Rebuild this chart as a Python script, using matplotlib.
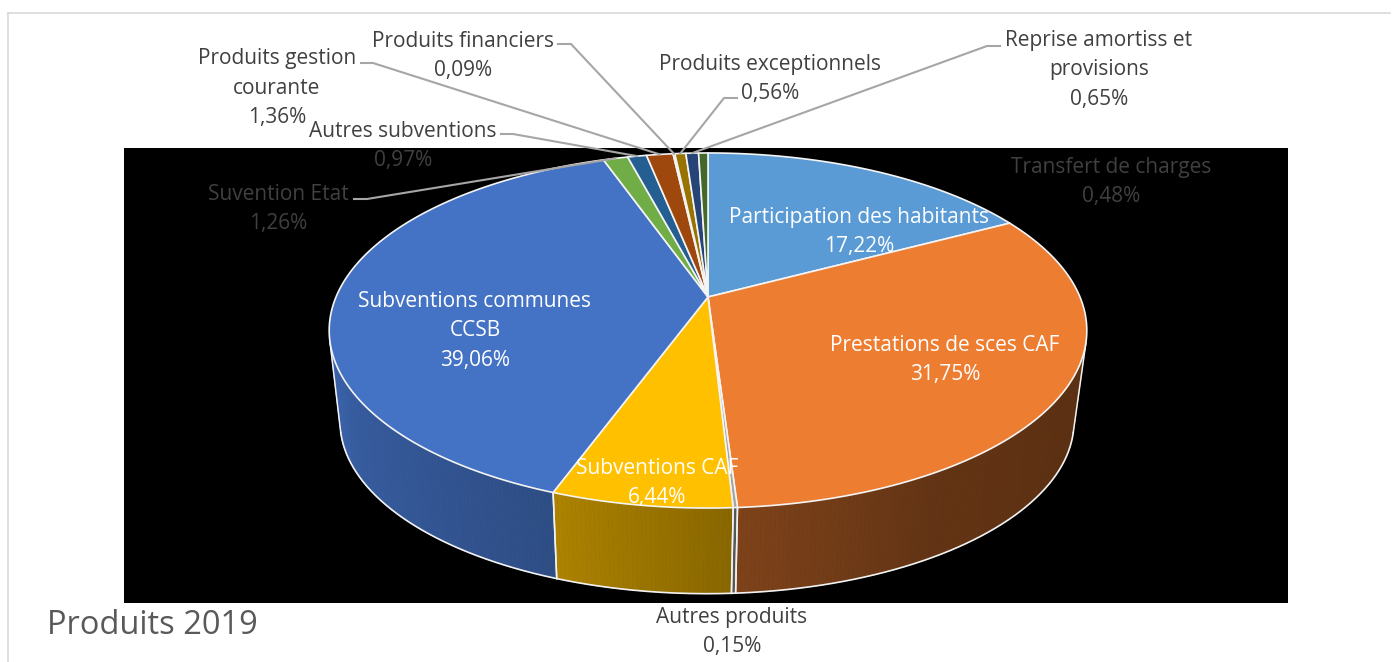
import numpy as np
import matplotlib
matplotlib.use("Agg")
import matplotlib.pyplot as plt
from matplotlib.collections import PolyCollection

# ---- data ----
labels = ["Participation des habitants", "Prestations de sces CAF", "Autres produits",
          "Subventions CAF", "Subventions communes\nCCSB", "Suvention Etat",
          "Autres subventions", "Produits gestion\ncourante", "Produits financiers",
          "Produits exceptionnels", "Reprise amortiss et\nprovisions", "Transfert de charges"]
values = [17.22, 31.75, 0.15, 6.44, 39.06, 1.26, 0.97, 1.36, 0.09, 0.56, 0.65, 0.48]
colors = ["#5B9BD5", "#ED7D31", "#A5A5A5", "#FFC000", "#4472C4", "#70AD47",
          "#255E91", "#9E480E", "#636363", "#997300", "#264478", "#43682B"]
label_pos = [(859, 232), (945, 360), (732, 632), (657, 483), (475, 331), (278, 209),
             (403, 146), (277, 88), (463, 56), (770, 79), (1099, 70), (1111, 182)]
label_col = ["white", "white", "#404040", "white", "white", "#404040",
             "#404040", "#404040", "#404040", "#404040", "#404040", "#404040"]
# leader lines: slice index -> (label end, elbow)
leaders = {5: ((354, 199), (367, 199)), 6: ((501, 134), (513, 134)),
           7: ((361, 63), (373, 63)), 8: ((558, 44), (571, 44)),
           9: ((737, 98), (724, 98)), 10: ((1000, 46), (987, 46))}

FONT = "Open Sans"
FS = 15
LS = 1.52

fig = plt.figure(figsize=(13.94, 6.62), dpi=100, facecolor="white")
ax = fig.add_axes([0, 0, 1, 1])
ax.set_xlim(0, 1394)
ax.set_ylim(662, 0)
ax.axis("off")

# frame and black plot area
ax.plot([8, 1390], [13, 13], color="#D9D9D9", lw=1.2, zorder=1)
ax.plot([8, 8], [13, 662], color="#D9D9D9", lw=1.2, zorder=1)
ax.fill([124, 1288, 1288, 124], [148, 148, 603, 603], color="black", lw=0, zorder=1)


def top_rim(t):
    u, v = np.sin(t), -np.cos(t)
    d = 1 - 0.1887 * v
    return 708 + 372 * u / d, 297 + 171.2 * v / d


def bot_rim(t):
    u, v = np.sin(t), -np.cos(t)
    d = 1 - 0.19 * v
    return 707 + 360.3 * u / d, 389 + 165.8 * v / d


def shade(deg):
    return np.interp(deg, [95, 110, 150, 176, 200, 255],
                     [0.38, 0.385, 0.42, 0.53, 0.68, 0.87])


edges = np.radians(np.r_[0, np.cumsum(values)] / sum(values) * 360)
t_lo, t_hi = np.radians(104.5), np.radians(255.5)   # silhouette of the side wall

# side walls with gradient
for i, c in enumerate(colors):
    a, b = max(edges[i], t_lo), min(edges[i + 1], t_hi)
    if b <= a:
        continue
    n = max(2, int(np.degrees(b - a) / 0.6))
    ts = np.linspace(a, b, n + 1)
    tx, ty = top_rim(ts)
    bx, by = bot_rim(ts)
    polys, cols = [], []
    base = np.array(matplotlib.colors.to_rgb(c))
    for j in range(n):
        polys.append([(tx[j], ty[j]), (tx[j + 1], ty[j + 1]), (bx[j + 1], by[j + 1]), (bx[j], by[j])])
        cols.append(tuple(base * shade(np.degrees((ts[j] + ts[j + 1]) / 2))))
    ax.add_collection(PolyCollection(polys, facecolors=cols, edgecolors=cols, linewidths=0.6, zorder=2))
    # vertical white separators
    for t in (a, b):
        x0, y0 = top_rim(t)
        x1, y1 = bot_rim(t)
        ax.plot([x0, x1], [y0, y1], color="#F2F2F2", lw=1.1, zorder=3)

ts = np.linspace(t_lo, t_hi, 400)
bx, by = bot_rim(ts)
ax.plot(bx, by, color="#F2F2F2", lw=1.2, zorder=3)

# top face
for i, c in enumerate(colors):
    ts = np.linspace(edges[i], edges[i + 1], max(3, int(np.degrees(edges[i + 1] - edges[i]) * 2)))
    x, y = top_rim(ts)
    ax.fill(np.r_[708, x], np.r_[297, y], facecolor=c, edgecolor="#F4F4F4", lw=1.2,
            joinstyle="round", zorder=4)

# leader lines
for i, ((x0, y0), (x1, y1)) in leaders.items():
    ex, ey = top_rim((edges[i] + edges[i + 1]) / 2)
    ax.plot([x0, x1, ex], [y0, y1, ey], color="#A6A6A6", lw=1.5, zorder=5)

# labels
for lab, val, (x, y), col in zip(labels, values, label_pos, label_col):
    txt = lab + "\n" + f"{val:.2f}".replace(".", ",") + "%"
    ax.text(x, y, txt, ha="center", va="center", color=col, family=FONT, fontsize=FS,
            linespacing=LS, zorder=6)

ax.text(47, 625, "Produits 2019", ha="left", va="center", color="#595959", family=FONT,
        fontsize=23.5, zorder=6)

fig.savefig("out.png", dpi=100, facecolor="white")
